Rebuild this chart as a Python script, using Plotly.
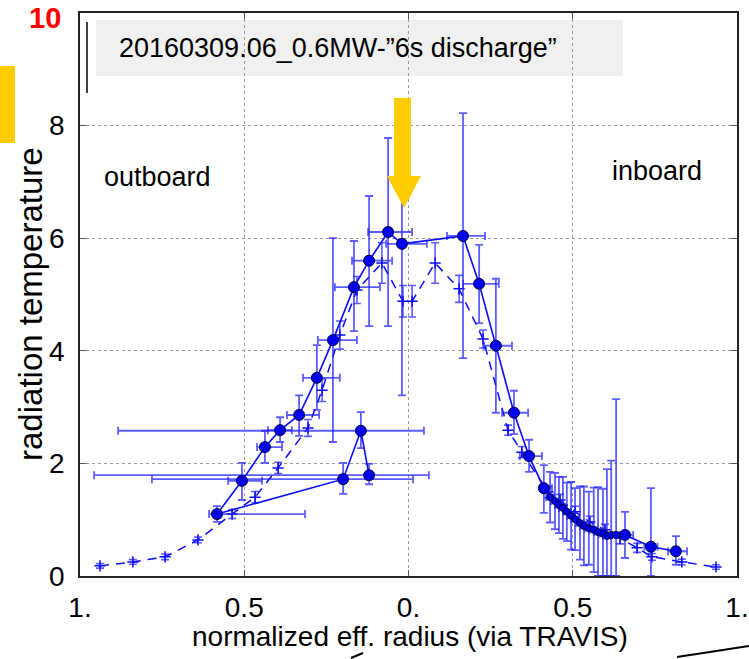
import plotly.graph_objects as go

# ---------------- data ----------------
# solid series (ordered as connected in the picture)
sol_x = [-0.120, -0.145, -0.199, -0.583, -0.507, -0.437, -0.391, -0.333, -0.279, -0.230,
         -0.166, -0.120, -0.062, -0.020, 0.166, 0.215, 0.266, 0.321, 0.367, 0.412,
         0.431, 0.446, 0.458, 0.470, 0.482, 0.495, 0.507, 0.522, 0.534, 0.549,
         0.564, 0.577, 0.592, 0.604, 0.617, 0.632, 0.659, 0.738, 0.814]
sol_y = [1.79, 2.58, 1.72, 1.10, 1.69, 2.29, 2.59, 2.86, 3.52, 4.19,
         5.13, 5.60, 6.11, 5.90, 6.04, 5.19, 4.09, 2.90, 2.13, 1.56,
         1.40, 1.33, 1.26, 1.21, 1.14, 1.07, 1.01, 0.94, 0.89, 0.85,
         0.82, 0.78, 0.75, 0.71, 0.73, 0.73, 0.73, 0.52, 0.44]
sol_xlo = [-0.957, -0.884, -0.781, -0.607, -0.549, -0.461, -0.428, -0.370, -0.321, -0.276,
           -0.224, -0.172, -0.123, -0.068, 0.117, 0.166, 0.230, 0.285, 0.339, 0.400,
           0.419, 0.434, 0.446, 0.458, 0.470, 0.483, 0.495, 0.510, 0.522, 0.537,
           0.552, 0.565, 0.580, 0.592, 0.605, 0.620, 0.634, 0.718, 0.790]
sol_xhi = [0.062, 0.047, 0.014, -0.315, -0.446, -0.385, -0.355, -0.272, -0.209, -0.157,
           -0.087, -0.050, 0.011, 0.056, 0.233, 0.275, 0.315, 0.364, 0.406, 0.437,
           0.443, 0.458, 0.470, 0.482, 0.494, 0.507, 0.519, 0.534, 0.546, 0.561,
           0.576, 0.589, 0.604, 0.616, 0.629, 0.644, 0.684, 0.758, 0.848]
sol_ylo = [1.63, 2.27, 1.46, 0.96, 1.35, 2.01, 2.38, 2.49, 2.95, 2.38,
           4.35, 4.44, 4.44, 3.21, 3.87, 4.49, 2.90, 2.52, 1.85, 1.12,
           0.95, 0.83, 0.76, 0.66, 0.62, 0.47, 0.46, 0.29, 0.19, 0.20,
           0.07, 0.00, 0.00, 0.00, 0.00, 0.00, 0.32, 0.00, 0.20]
sol_yhi = [1.99, 2.91, 2.01, 1.24, 2.01, 2.58, 2.82, 3.21, 4.10, 6.00,
           5.95, 6.75, 7.78, 7.57, 8.22, 5.88, 5.28, 3.29, 2.42, 1.97,
           1.85, 1.83, 1.76, 1.76, 1.66, 1.67, 1.56, 1.59, 1.59, 1.50,
           1.57, 1.58, 1.55, 1.90, 2.05, 3.14, 1.14, 1.56, 0.71]

# dashed series
dash_x = [-0.939, -0.839, -0.741, -0.641, -0.537, -0.467, -0.397, -0.306, -0.263, -0.209,
          -0.157, -0.081, -0.017, 0.011, 0.081, 0.154, 0.227, 0.303, 0.345, 0.425,
          0.461, 0.507, 0.552, 0.598, 0.644, 0.696, 0.741, 0.832, 0.936]
dash_y = [0.18, 0.25, 0.34, 0.64, 1.10, 1.40, 1.92, 2.63, 3.30, 4.28,
          5.08, 5.56, 4.88, 4.88, 5.56, 5.10, 4.21, 2.59, 2.20, 1.49,
          1.35, 1.14, 0.96, 0.82, 0.67, 0.50, 0.34, 0.25, 0.16]
dash_err = [0.04, 0.04, 0.05, 0.05, 0.08, 0.10, 0.10, 0.15, 0.20, 0.25,
            0.24, 0.36, 0.28, 0.28, 0.36, 0.24, 0.16, 0.09, 0.10, 0.10,
            0.10, 0.10, 0.10, 0.10, 0.10, 0.08, 0.06, 0.05, 0.04]

x_tickvals = [-1, -0.5, 0, 0.5, 1]
x_ticktext = ["1.", "0.5", "0.", "0.5", "1."]
y_tickvals = [0, 2, 4, 6, 8]
y_ticktext = ["0", "2", "4", "6", "8"]

FONT = "Liberation Sans, Arial, sans-serif"
BLUE = "#0a0aff"
ERR = "rgba(30,30,255,0.72)"

# marker sizes: large dots, smaller dots in the dense cluster near 0.45-0.63
marker_sizes = [11] * 20 + [7] * 16 + [11] * 3

fig = go.Figure()

fig.add_trace(go.Scatter(
    x=dash_x, y=dash_y, mode="lines+markers",
    line=dict(color=BLUE, width=1.5, dash="9px,7px"),
    marker=dict(symbol="cross-thin", size=8, line=dict(color=BLUE, width=1.5)),
    error_y=dict(type="data", array=dash_err, color=ERR, thickness=1.6, width=4),
    showlegend=False, hoverinfo="skip"))

fig.add_trace(go.Scatter(
    x=sol_x, y=sol_y, mode="lines+markers",
    line=dict(color=BLUE, width=1.6),
    marker=dict(size=marker_sizes, opacity=1, color="#0000ee",
                line=dict(color="#000040", width=1)),
    error_x=dict(type="data", symmetric=False,
                 array=[h - v for h, v in zip(sol_xhi, sol_x)],
                 arrayminus=[v - l for l, v in zip(sol_xlo, sol_x)],
                 color=ERR, thickness=1.8, width=4),
    error_y=dict(type="data", symmetric=False,
                 array=[h - v for h, v in zip(sol_yhi, sol_y)],
                 arrayminus=[v - l for l, v in zip(sol_ylo, sol_y)],
                 color=ERR, thickness=1.8, width=4),
    showlegend=False, hoverinfo="skip"))

W, H = 749, 659
L, R, T, B = 80, 12, 13, 83
PW, PH = W - L - R, H - T - B


def px(xp):
    return (xp - L) / PW


def py(yp):
    return (H - B - yp) / PH


shapes = [
    # grey label box
    dict(type="rect", xref="paper", yref="paper", x0=px(96), x1=px(623), y0=py(76), y1=py(20),
         fillcolor="#f0f0f0", line=dict(width=0), layer="below"),
    # black vertical line at left of box
    dict(type="line", xref="paper", yref="paper", x0=px(87), x1=px(87), y0=py(22), y1=py(93),
         line=dict(color="black", width=1.5)),
    # yellow arrow
    dict(type="path", xref="paper", yref="paper",
         path=(f"M {px(394)} {py(98)} L {px(411)} {py(98)} L {px(411)} {py(176)} "
               f"L {px(421)} {py(176)} L {px(404)} {py(208)} L {px(387)} {py(176)} "
               f"L {px(394)} {py(176)} Z"),
         fillcolor="#ffcc00", line=dict(width=0)),
    # yellow rectangle at far left
    dict(type="rect", xref="paper", yref="paper", x0=px(0), x1=px(15), y0=py(143), y1=py(66),
         fillcolor="#ffcc00", line=dict(width=0)),
    # black lines at bottom
    dict(type="line", xref="paper", yref="paper", x0=px(677), x1=px(749), y0=py(657), y1=py(646),
         line=dict(color="black", width=2)),
    dict(type="line", xref="paper", yref="paper", x0=px(363), x1=px(351), y0=py(653), y1=py(658),
         line=dict(color="black", width=2)),
]

annotations = [
    dict(text="20160309.06_0.6MW-\u201d6s discharge\u201d", xref="paper", yref="paper",
         x=px(117), y=py(48), xanchor="left", yanchor="middle", showarrow=False,
         font=dict(family=FONT, size=27, color="black")),
    dict(text="outboard", xref="paper", yref="paper", x=px(157), y=py(177),
         xanchor="center", yanchor="middle", showarrow=False,
         font=dict(family=FONT, size=27, color="black")),
    dict(text="inboard", xref="paper", yref="paper", x=px(657), y=py(171),
         xanchor="center", yanchor="middle", showarrow=False,
         font=dict(family=FONT, size=27, color="black")),
    dict(text="<b>10</b>", xref="paper", yref="paper", x=px(63), y=py(18),
         xanchor="right", yanchor="middle", showarrow=False,
         font=dict(family=FONT, size=29, color="red")),
    dict(text="radiation temperature", xref="paper", yref="paper", x=px(30), y=py(304),
         xanchor="center", yanchor="middle", textangle=-90, showarrow=False,
         font=dict(family=FONT, size=33, color="black")),
    dict(text="normalized eff. radius (via TRAVIS)", xref="paper", yref="paper",
         x=px(410), y=py(636), xanchor="center", yanchor="middle", showarrow=False,
         font=dict(family=FONT, size=28, color="black")),
]

axis_common = dict(showgrid=True, gridcolor="#999999", griddash="dot", gridwidth=1,
                   showline=True, linecolor="#222222", linewidth=1.5, mirror="ticks",
                   ticks="inside", ticklen=6, tickcolor="#555555", zeroline=False,
                   automargin=False,
                   tickfont=dict(family=FONT, size=28, color="black"))

fig.update_layout(
    width=W, height=H, autosize=False,
    margin=dict(l=L, r=R, t=T, b=B),
    paper_bgcolor="white", plot_bgcolor="white",
    xaxis=dict(range=[-1, 1], tickvals=x_tickvals, ticktext=x_ticktext,
               ticklabelstandoff=6, **axis_common),
    yaxis=dict(range=[0, 10], tickvals=y_tickvals, ticktext=y_ticktext,
               ticklabelstandoff=8, **axis_common),
    shapes=shapes, annotations=annotations,
)

fig.write_html("out.html")
